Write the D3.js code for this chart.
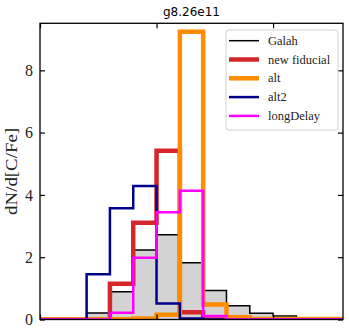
<!DOCTYPE html>
<html>
<head>
<meta charset="utf-8">
<script src="https://cdn.jsdelivr.net/npm/d3@7"></script>
<style>
  body { margin: 0; background: #fff; }
  svg { display: block; }
</style>
</head>
<body>
<svg width="349" height="335"></svg>
<script>
// bin edges in [C/Fe]
var binEdges = [-0.5, -0.4, -0.3, -0.2, -0.1, 0.0, 0.1, 0.2, 0.3, 0.4, 0.5, 0.6, 0.7, 0.8];

// dN/d[C/Fe] per bin
var galah     = [0, 0, 0.21, 0.89, 2.23, 2.72, 1.82, 0.93, 0.44, 0.20, 0.11, 0.04, 0.01];
var fiducial  = [0, 0, 0, 1.15, 3.11, 5.42, 0.23, 0, 0, 0, 0, 0, 0];
var alt       = [0, 0, 0, 0.01, 0.03, 0.15, 9.24, 0.48, 0.07, 0.02, 0.02, 0.02, 0.02];
var alt2      = [0, 0, 1.45, 3.57, 4.29, 0.51, 0.03, 0, 0, 0, 0, 0, 0];
var longDelay = [0, 0, 0, 0.22, 1.98, 3.44, 4.13, 0.11, 0, 0, 0, 0, 0];

var yTicks = [0, 2, 4, 6, 8];
var xTicks = [-0.5, 0.0, 0.5];
var title = "g8.26e11";

var svg = d3.select("svg"),
    m = {left: 40, right: 343, top: 23.3, bottom: 319.5};

var x = d3.scaleLinear().domain([-0.5, 0.8]).range([m.left, m.right]);
var y = d3.scaleLinear().domain([0, 9.51]).range([m.bottom, m.top]);

svg.append("clipPath").attr("id", "clip")
  .append("rect")
    .attr("x", m.left).attr("y", m.top)
    .attr("width", m.right - m.left).attr("height", m.bottom - m.top);

// step outline points for a histogram
function steps(vals) {
  var pts = [[binEdges[0], 0]];
  vals.forEach(function(v, i) {
    pts.push([binEdges[i], v]);
    pts.push([binEdges[i + 1], v]);
  });
  pts.push([binEdges[binEdges.length - 1], 0]);
  return pts;
}

var line = d3.line()
    .x(function(d) { return x(d[0]); })
    .y(function(d) { return y(d[1]); });

var plot = svg.append("g").attr("clip-path", "url(#clip)");

// Galah filled
plot.append("path")
    .attr("d", line(steps(galah)) + "Z")
    .attr("fill", "#d3d3d3")
    .attr("stroke", "none");

var series = [
  {name: "Galah",        vals: galah,     color: "#000000", w: 1.5},
  {name: "new fiducial", vals: fiducial,  color: "#d62728", w: 4.5},
  {name: "alt",          vals: alt,       color: "#ff8c00", w: 4.5},
  {name: "alt2",         vals: alt2,      color: "#00008b", w: 2.5},
  {name: "longDelay",    vals: longDelay, color: "#ff00ff", w: 2.5}
];

series.forEach(function(s) {
  plot.append("path")
      .attr("d", line(steps(s.vals)))
      .attr("fill", "none")
      .attr("stroke", s.color)
      .attr("stroke-width", s.w)
      .attr("stroke-linejoin", "miter");
});

// axes with inward ticks
var serif = "'Liberation Serif', 'Times New Roman', serif";

var yAxis = svg.append("g")
    .attr("transform", "translate(" + m.left + ",0)")
    .call(d3.axisLeft(y).tickValues(yTicks).tickSize(-5).tickPadding(7));
yAxis.selectAll("text").style("font", "16px " + serif).attr("fill", "#222");

svg.append("g")
    .attr("transform", "translate(" + m.right + ",0)")
    .call(d3.axisRight(y).tickValues(yTicks).tickSize(-5).tickFormat(""));

svg.append("g")
    .attr("transform", "translate(0," + m.top + ")")
    .call(d3.axisTop(x).tickValues(xTicks).tickSize(-5).tickFormat(""));

svg.append("g")
    .attr("transform", "translate(0," + m.bottom + ")")
    .call(d3.axisBottom(x).tickValues(xTicks).tickSize(-5).tickFormat(""));

svg.selectAll(".domain").remove();
svg.selectAll(".tick line").attr("stroke", "#000").attr("stroke-width", 1.2);

svg.append("rect")
    .attr("x", m.left).attr("y", m.top)
    .attr("width", m.right - m.left).attr("height", m.bottom - m.top)
    .attr("fill", "none")
    .attr("stroke", "#000")
    .attr("stroke-width", 1.3);

// y label
svg.append("text")
    .attr("transform", "translate(17," + ((m.top + m.bottom) / 2) + ") rotate(-90)")
    .attr("text-anchor", "middle")
    .attr("textLength", 87)
    .attr("lengthAdjust", "spacingAndGlyphs")
    .style("font", "16px " + serif)
    .attr("fill", "#222")
    .text("dN/d[C/Fe]");

// title
svg.append("text")
    .attr("x", (m.left + m.right) / 2)
    .attr("y", 16)
    .attr("text-anchor", "middle")
    .style("font", "12px 'DejaVu Sans', sans-serif")
    .text(title);

// legend
var legend = svg.append("g").attr("transform", "translate(226,30)");
legend.append("rect")
    .attr("width", 112).attr("height", 100)
    .attr("rx", 3)
    .attr("fill", "#fff").attr("fill-opacity", 0.8)
    .attr("stroke", "#d0d0d0").attr("stroke-width", 1);

var item = legend.selectAll(".item")
  .data(series)
  .enter().append("g")
    .attr("class", "item")
    .attr("transform", function(d, i) { return "translate(0," + (10.7 + i * 18.8) + ")"; });

item.append("line")
    .attr("x1", 3).attr("x2", 33)
    .attr("stroke", function(d) { return d.color; })
    .attr("stroke-width", function(d) { return d.w; });

item.append("text")
    .attr("x", 42)
    .attr("dy", "0.33em")
    .style("font", "12.5px " + serif)
    .attr("fill", "#222")
    .text(function(d) { return d.name; });
</script>
</body>
</html>
